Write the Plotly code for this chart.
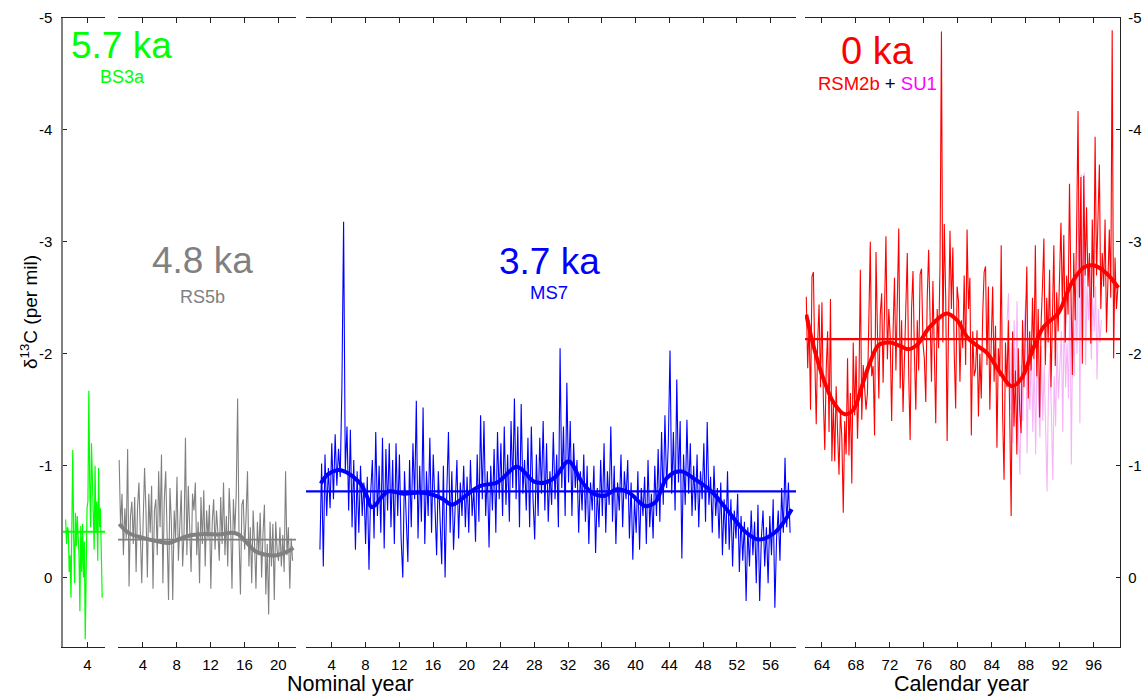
import numpy as np
import plotly.graph_objects as go

W, H = 1144, 697
FONT = "Liberation Sans, Arial, sans-serif"

# ---------------- data ----------------
# BS3a (5.7 ka), nominal years
bs3a_span = (1.45, 5.75)
bs3a = [-0.52, -0.30, -0.45, -0.42, -0.05, -0.20, 0.18, -0.45, -1.14, -0.35,
        0.05, -0.58, -0.28, -0.55, -0.30, -0.20, 0.30, -0.46, -0.05, -0.48,
        0.00, -0.32, 0.55, -0.28, -0.62, -0.68, -1.67, -0.85, -0.45, -1.20,
        -0.90, -0.55, -0.25, -1.00, -0.40, -0.68, -0.15, -0.98, -0.45, -0.62,
        0.02, 0.18]
bs3a_mean = -0.41

# RS5b (4.8 ka), nominal years
rs5b_span = (1.2, 21.7)
rs5b = [-1.05, -0.45, -0.75, -0.20, -0.62, -0.35,
        -1.15, 0.08, -0.55, -0.68, -0.30, -0.72,
        -0.05, -0.62, -0.85, -0.30, 0.05, -0.50,
        -0.98, -0.60, 0.00, -0.75, -0.40, -0.82,
        0.10, -0.60, -0.70, -0.20, -0.95, -0.45,
        -1.10, 0.05, -0.70, -0.95, -0.30, 0.20,
        -0.80, -0.50, 0.20, -0.60, -0.35, -0.90,
        -0.15, -0.55, -0.78, -0.10, -0.40, -1.25,
        -0.20, -0.82, -0.45, -0.05, -0.75, -0.60,
        -0.85, -0.20, -0.50, 0.05, -0.72, -0.30,
        -0.78, -0.10, -0.60, -0.35, -0.65, 0.10,
        -0.50, -0.70, -0.25, -0.60, -0.40, -0.15,
        -0.72, -0.30, -0.85, -0.20, -0.55, -0.10,
        -0.80, -0.50, 0.10, -0.70, -0.40, -0.75,
        -1.60, -0.35, 0.15, -0.65, -0.70, -0.25,
        -0.55, -0.95, -0.10, -0.45, 0.05, -0.60,
        -0.30, 0.10, -0.50, -0.20, -0.58, 0.00,
        -0.40, -0.65, 0.15, -0.30, 0.33, -0.50,
        -0.10, -0.48, 0.20, -0.50, -0.25, -0.15,
        -0.45, -0.10, -0.38, -0.05, -0.95, -0.20,
        -0.45, 0.10, -0.35, -0.15]
rs5b_mean = -0.34
rs5b_smooth_x = [1.2, 2.3, 4.0, 6.0, 7.1, 8.3, 9.8, 11.4, 13.0, 14.5, 15.3, 16.3,
                 17.3, 18.5, 19.8, 21.0, 21.8]
rs5b_smooth_y = [-0.48, -0.40, -0.355, -0.32, -0.31, -0.345, -0.38, -0.39, -0.385,
                 -0.40, -0.385, -0.31, -0.235, -0.205, -0.20, -0.23, -0.265]

# MS7 (3.7 ka), nominal years
ms7_span = (2.6, 58.3)
ms7 = [-0.25, -1.02,
       -0.10, -1.10, -0.55, -0.98, -0.62,
       -1.20, -0.70, -1.28, -0.82, -1.15,
       -0.90, -1.70, -3.18, -0.95, -1.35,
       -0.60, -1.32, -0.45, -1.05, -0.25,
       -0.95, -0.40, -1.00, -0.55, -0.85,
       -0.30, -0.90, -0.07, -0.75, -1.05,
       -0.35, -1.30, -0.55, -1.00, -0.40,
       -1.25, -0.26, -1.15, -0.60, -1.20,
       -0.45, -1.05, -0.30, -1.20, -0.55,
       -1.10, -0.35, 0.00, -0.95, -0.60,
       -0.14, -1.05, -0.45, -1.20, -0.70,
       -1.58, -0.35, -1.00, -0.50, -1.52,
       -0.30, -0.95, -0.55, -1.25, -0.40,
       -1.10, -0.65, -0.20, -0.95, -0.45,
       -0.12, -1.00, 0.00, -0.75, -1.30,
       -0.40, -0.95, -0.25, -0.70, -1.05,
       -0.35, -0.85, -0.55, -1.00, -0.45,
       -0.90, -0.40, -1.05, -0.55, -0.80,
       -0.32, -1.10, -0.50, -1.45, -0.70,
       -1.40, -0.55, -0.95, -0.27, -1.00,
       -0.60, -1.15, -0.40, -1.30, -0.70,
       -1.20, -0.55, -1.35, -0.65, -1.10,
       -0.50, -1.40, -0.80, -1.60, -0.70,
       -1.35, -0.45, -1.55, -0.75, -1.05,
       -0.60, -1.25, -0.45, -1.35, -0.70,
       -0.34, -1.10, -0.55, -1.25, -0.75,
       -1.40, -0.60, -1.20, -0.50, -0.95,
       -0.65, -1.30, -0.70, -1.10, -0.45,
       -2.05, -0.80, -1.35, -0.55, -1.74,
       -0.85, -1.40, -0.55, -1.20, -0.80,
       -1.05, -0.40, -0.95, -0.60, -1.10,
       -0.50, -1.00, -0.30, -0.85, -0.60,
       -1.00, -0.22, -0.80, -0.45, -1.05,
       -0.55, -1.20, -0.40, -0.95, -0.65,
       -1.35, -0.50, -1.00, -0.30, -0.85,
       -0.60, -1.10, -0.45, -0.95, -0.70,
       -1.05, -0.35, -0.85, -0.16, -0.70,
       -0.40, -0.95, -0.25, -0.80, -0.55,
       -0.90, -0.30, -1.05, -0.45, -0.75,
       -0.35, -1.00, -0.55, -1.15, -0.50,
       -1.30, -0.65, -1.45, -0.80, -1.20,
       -2.03, -0.75, -1.30, -0.60, -1.77,
       -0.85, -1.40, -0.17, -1.10, -0.65,
       -1.41, -0.75, -1.20, -0.55, -1.00,
       -0.60, -1.10, -0.45, -0.95, -0.70,
       -1.20, -0.50, -1.39, -0.65, -0.90,
       -0.40, -1.00, -0.55, -0.80, -0.35,
       -0.85, -0.20, -0.70, -0.30, -0.95,
       -0.25, -0.70, -0.10, -0.60, -0.35,
       -0.75, -0.05, -0.55, -0.15, -0.50,
       0.21, -0.45, -0.10, -0.60, -0.20,
       -0.50, 0.05, -0.65, 0.21, -0.35,
       -0.60, -0.10, -0.45, 0.05, -0.55,
       -0.20, -0.70, 0.27, -0.35, -0.60,
       -0.15, -0.80, -0.40, -1.07, -0.45,
       -0.85, -0.40]
ms7_mean = -0.77
ms7_smooth_x = [2.7, 3.5, 4.6, 5.5, 6.2, 7.0, 7.6, 8.2, 8.7, 9.2, 9.7, 10.7, 12.5,
                14.5, 16.0, 17.2, 18.2, 19.2, 20.0, 21.6, 23.6, 25.9, 27.0, 27.9,
                29.3, 30.5, 32.05, 33.6, 34.8, 36.2, 37.8, 39.2, 41.1, 42.3, 43.7,
                45.3, 47.1, 49.0, 51.0, 53.0, 54.6, 56.6, 58.5]
ms7_smooth_y = [-0.84, -0.92, -0.96, -0.95, -0.92, -0.87, -0.82, -0.72, -0.63, -0.65,
                -0.70, -0.77, -0.75, -0.76, -0.74, -0.70, -0.65, -0.69, -0.74, -0.82,
                -0.85, -0.99, -0.93, -0.86, -0.85, -0.90, -1.04, -0.86, -0.76, -0.73,
                -0.79, -0.76, -0.64, -0.67, -0.89, -0.95, -0.875, -0.77, -0.59, -0.41,
                -0.34, -0.41, -0.61]

# RSM2b (0 ka), calendar years 19xx
rsm2b_span = (62.15, 98.85)
rsm2b = [-2.51, -1.87, -2.30, -1.50, -2.69,
         -2.73, -1.95, -1.37, -2.10, -2.44, -1.70,
         -2.46, -1.60, -1.14, -1.85, -2.20, -1.30,
         -2.49, -1.04, -1.55, -1.04, -1.71, -1.30,
         -0.92, -1.50, -1.25, -0.58, -1.40, -1.10,
         -1.96, -1.09, -1.65, -0.84, -2.10, -1.45,
         -1.98, -1.24, -1.70, -2.75, -1.41, -1.90,
         -1.73, -1.50, -1.65, -2.19, -3.00, -1.80,
         -1.89, -1.27, -2.91, -2.20, -1.60, -2.35,
         -2.54, -1.74, -2.30, -3.05, -1.95, -2.40,
         -2.15, -1.40, -2.20, -2.68, -1.85, -2.50,
         -3.12, -1.69, -2.30, -1.48, -2.05, -2.60,
         -2.90, -1.80, -1.23, -2.40, -2.74, -2.00,
         -1.50, -2.30, -1.85, -2.71, -2.76, -2.10,
         -1.95, -1.57, -2.50, -2.93, -2.20, -1.75,
         -2.65, -1.90, -1.38, -2.40, -2.05, -2.80,
         -4.88, -2.10, -3.16, -2.50, -1.22, -2.30,
         -3.10, -2.40, -2.95, -2.00, -1.51, -2.60,
         -2.47, -1.75, -2.30, -2.05, -2.70, -1.90,
         -3.11, -2.40, -2.68, -1.27, -2.20, -1.80,
         -1.86, -2.21, -1.44, -2.00, -1.60, -2.35,
         -2.73, -2.78, -1.90, -2.60, -1.50, -2.10,
         -2.60, -1.75, -2.25, -1.16, -2.05, -1.80,
         -2.97, -1.45, -0.875, -2.10, -1.70, -2.30,
         -1.60, -0.55, -2.20, -1.35, -1.85, -1.10,
         -2.05, -1.50, -1.29, -2.30, -1.70, -2.15,
         -2.78, -1.60, -2.20, -1.85, -2.50, -1.95,
         -2.97, -1.80, -2.40, -1.43, -2.25, -2.60,
         -3.03, -1.90, -2.50, -2.10, -2.75, -1.70,
         -2.30, -2.97, -1.89, -2.55, -2.20, -2.80,
         -3.17, -2.40, -3.06, -2.10, -2.70, -2.35,
         -3.52, -2.60, -1.81, -2.90, -2.30, -3.10,
         -4.17, -2.50, -3.58, -1.91, -3.59, -2.70,
         -3.31, -2.60, -2.90, -2.09, -3.20, -2.50,
         -3.94, -2.70, -3.10, -3.69, -2.40, -2.90,
         -2.60, -3.20, -2.19, -2.80, -3.11, -2.50,
         -4.89, -1.96, -2.86, -2.40, -2.60]
rsm2b_mean = -2.13
rsm2b_smooth_x = [62.15, 63.0, 64.2, 65.4, 66.7, 67.7, 68.7, 69.7, 70.7, 72.0, 73.2,
                  74.2, 75.2, 76.7, 78.7, 79.9, 81.2, 82.3, 83.4, 85.0, 86.35, 87.5,
                  88.9, 90.1, 91.8, 93.4, 94.8, 95.95, 97.5, 98.9]
rsm2b_smooth_y = [-2.35, -2.07, -1.77, -1.56, -1.46, -1.50, -1.71, -1.93, -2.08, -2.10,
                  -2.07, -2.04, -2.08, -2.24, -2.36, -2.30, -2.14, -2.07, -2.01, -1.83,
                  -1.71, -1.78, -2.05, -2.24, -2.36, -2.63, -2.77, -2.79, -2.72, -2.59]

# SU1, calendar years 19xx
su1_span = (85.8, 96.9)
su1 = [-2.30, -2.54, -1.50, -2.10, -1.20, -2.30, -1.60,
       -2.47, -1.30, -0.92, -1.90, -1.40, -2.20,
       -2.48, -1.11, -1.80, -1.50, -2.10, -1.30,
       -1.95, -1.10, -2.05, -1.60, -1.25, -2.07,
       -1.40, -1.90, -1.20, -0.77, -1.70, -2.00,
       -1.50, -0.87, -1.80, -1.35, -2.10, -1.60,
       -1.90, -2.20, -1.30, -2.40, -1.70, -2.10,
       -1.60, -2.60, -1.01, -2.30, -1.80, -2.50,
       -2.00, -3.43, -1.38, -3.60, -2.10, -3.62,
       -1.90, -2.60, -2.30, -2.78, -1.95, -2.50,
       -2.20, -2.60, -1.77, -2.40, -2.10, -2.30]

# axis ranges and ticks
y_range = [0.62, -5.0]
y_ticks = [-5, -4, -3, -2, -1, 0]
x_ranges = [(1.14, 6.08), (1.06, 22.1), (0.95, 59.0), (62.0, 99.1)]
x_ticks = [[4], [4, 8, 12, 16, 20], list(range(4, 57, 4)), list(range(64, 97, 4))]

GREEN, GREY, BLUE, RED, MAGENTA = "#00ff00", "#808080", "#0000ff", "#ff0000", "#ff00ff"


def t(span, vals):
    return np.linspace(span[0], span[1], len(vals))


def px_x(p):
    return p / W


def px_y(p):
    return 1 - p / H


fig = go.Figure()


def line(x, y, color, width, axis, shape="linear", opacity=1.0):
    xa, ya = ("x", "y") if axis == 1 else (f"x{axis}", f"y{axis}")
    fig.add_trace(go.Scatter(x=list(x), y=list(y), mode="lines", xaxis=xa, yaxis=ya,
                             line=dict(color=color, width=width, shape=shape,
                                       smoothing=1.0 if shape == "spline" else None),
                             opacity=opacity, showlegend=False, hoverinfo="skip"))


# panel 1: BS3a
line(t(bs3a_span, bs3a), bs3a, GREEN, 1.2, 1)
line(x_ranges[0], [bs3a_mean] * 2, GREEN, 2, 1)
# panel 2: RS5b
line(t(rs5b_span, rs5b), rs5b, GREY, 1.1, 2)
line(x_ranges[1], [rs5b_mean] * 2, GREY, 1.8, 2)
line(rs5b_smooth_x, rs5b_smooth_y, GREY, 4, 2, "spline")
# panel 3: MS7
line(t(ms7_span, ms7), ms7, BLUE, 1.1, 3)
line(x_ranges[2], [ms7_mean] * 2, BLUE, 2.2, 3)
line(ms7_smooth_x, ms7_smooth_y, BLUE, 4, 3, "spline")
# panel 4: SU1 beneath RSM2b
line(t(su1_span, su1), su1, "#f7b3f7", 1.1, 4)
line(t(rsm2b_span, rsm2b), rsm2b, RED, 1.1, 4)
line(x_ranges[3], [rsm2b_mean] * 2, RED, 2.2, 4)
line(rsm2b_smooth_x, rsm2b_smooth_y, RED, 4, 4, "spline")

y_dom = [px_y(647), px_y(18)]
x_doms = [(63, 105), (118, 296), (306, 796), (805, 1120)]
tickfont = dict(family=FONT, size=15, color="black")

layout = dict(width=W, height=H, margin=dict(l=0, r=0, t=0, b=0, autoexpand=False),
              paper_bgcolor="white", plot_bgcolor="white", showlegend=False)

for i in range(4):
    k = "" if i == 0 else str(i + 1)
    layout[f"xaxis{k}"] = dict(
        domain=[px_x(x_doms[i][0]), px_x(x_doms[i][1])], range=list(x_ranges[i]),
        anchor=f"y{k}", showline=True, linecolor="#222", linewidth=1.3, mirror="ticks",
        ticks="inside", ticklen=5, tickwidth=1.2, tickcolor="#222",
        tickvals=x_ticks[i], ticktext=[str(v) for v in x_ticks[i]], automargin=False,
        showgrid=False, zeroline=False, tickfont=tickfont, ticklabelstandoff=4)
    ycfg = dict(domain=y_dom, range=y_range, anchor=f"x{k}", showgrid=False,
                zeroline=False, automargin=False)
    if i == 0:
        ycfg.update(showline=True, linecolor="#808080", linewidth=1.5, ticks="inside",
                    ticklen=4, tickwidth=1.2, tickcolor="#222", tickvals=y_ticks,
                    ticktext=[str(v) for v in y_ticks], tickfont=tickfont,
                    ticklabelstandoff=6)
    elif i == 3:
        ycfg.update(side="right", showline=True, linecolor="#222", linewidth=1.3,
                    ticks="inside", ticklen=4, tickwidth=1.2, tickcolor="#222",
                    tickvals=y_ticks, ticktext=[str(v) for v in y_ticks],
                    tickfont=tickfont, ticklabelstandoff=4)
    else:
        ycfg.update(visible=False)
    layout[f"yaxis{k}"] = ycfg

fig.update_layout(**layout)


def label(text, x, y, size, color, angle=0):
    fig.add_annotation(text=text, x=px_x(x), y=px_y(y), xref="paper", yref="paper",
                       xanchor="center", yanchor="middle", showarrow=False,
                       textangle=angle, font=dict(family=FONT, size=size, color=color))


label("5.7 ka", 121.5, 45, 37, GREEN)
label("BS3a", 122, 77, 18, GREEN)
label("4.8 ka", 202, 260, 37, GREY)
label("RS5b", 202, 297, 18, GREY)
label("3.7 ka", 549.5, 261, 37, BLUE)
label("MS7", 549, 292, 18.5, BLUE)
label("0 ka", 877.5, 51, 38, RED)
label(f'<span style="color:{RED}">RSM2b</span> + <span style="color:{MAGENTA}">SU1</span>',
      877, 83, 18.5, "black")
label("δ<sup>13</sup>C (per mil)", 29, 312, 19, "black", -90)
label("Nominal year", 350, 684, 21.5, "black")
label("Calendar year", 961, 684, 21.5, "black")

fig.write_html("out.html")
